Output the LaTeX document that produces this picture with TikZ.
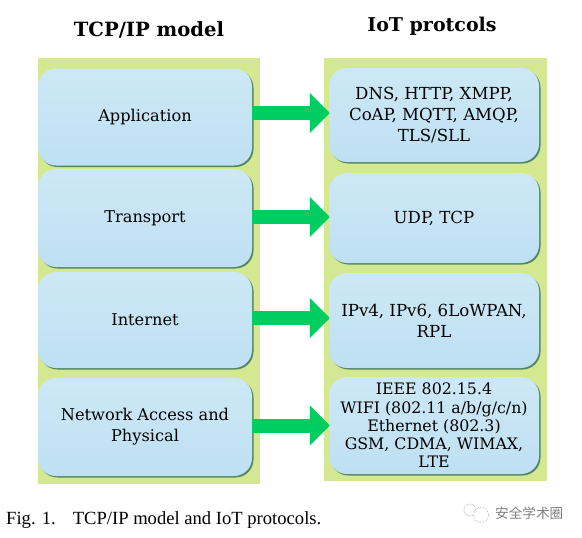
\documentclass[tikz,border=0pt]{standalone}
\usepackage{fontspec}
\setmainfont{DejaVu Serif}
\newfontfamily\captionfont{Liberation Serif}
\newfontfamily\cjkfont{Noto Sans CJK SC}
\usepackage{xcolor}
\usetikzlibrary{arrows.meta,shadows}
\definecolor{panelgreen}{RGB}{212,232,145}
\definecolor{boxtop}{RGB}{205,232,245}
\definecolor{boxbottom}{RGB}{190,224,243}
\definecolor{flowgreen}{RGB}{0,205,95}
\tikzset{
    layerbox/.style={rounded corners=18pt, top color=boxtop, bottom color=boxbottom, draw=none,
        drop shadow={shadow xshift=1.5pt, shadow yshift=-1.5pt, fill=black!45!teal, opacity=0.6},
        align=center, font=\fontsize{16.2}{21}\selectfont, inner sep=0pt},
    protobox/.style={layerbox, minimum width=210pt, font=\fontsize{16.6}{21}\selectfont},
    flow/.style={draw=flowgreen, line width=14pt, -{Triangle[length=20pt,width=39pt,fill=flowgreen]}, shorten >=-1pt},
    heading/.style={font=\fontsize{#1}{22}\selectfont\bfseries}
}
\begin{document}
\begin{tikzpicture}[x=1pt,y=-1pt]
    \useasboundingbox (0,0) rectangle (582,538);
    \fill[white] (0,0) rectangle (582,538);
    % panels
    \fill[panelgreen] (38,58) rectangle (260,484);
    \fill[panelgreen] (324,58) rectangle (547,481);
    \node[heading=19.6] (modelhead) at (149,30) {TCP/IP model};
    \node[heading=19] (iothead) at (432,26) {IoT protcols};
    % left column
    \node[layerbox, minimum width=214pt, minimum height=97pt] (application) at (145,117) {Application};
    \node[layerbox, minimum width=214pt, minimum height=98pt] (transport) at (145,218) {Transport};
    \node[layerbox, minimum width=214pt, minimum height=96pt] (internet) at (145,320) {Internet};
    \node[layerbox, minimum width=214pt, minimum height=98pt] (network) at (145,427) {Network Access and\\Physical};
    % right column
    \node[protobox, minimum height=94pt] (appproto) at (434,115) {DNS, HTTP, XMPP,\\CoAP, MQTT, AMQP,\\TLS/SLL};
    \node[protobox, minimum height=90pt] (transproto) at (434,218) {UDP, TCP};
    \node[protobox, minimum height=95pt] (netproto) at (434,320.5) {IPv4, IPv6, 6LoWPAN,\\RPL};
    \node[protobox, minimum height=97pt, font=\fontsize{15.8}{18.3}\selectfont] (linkproto) at (434,425.5) {IEEE 802.15.4\\WIFI (802.11 a/b/g/c/n)\\Ethernet (802.3)\\GSM, CDMA, WIMAX,\\LTE};
    % arrows
    \draw[flow] ([yshift=2pt]appproto.west -| application.east) -- ([yshift=2pt]appproto.west);
    \draw[flow] ([yshift=1pt]transproto.west -| transport.east) -- ([yshift=1pt]transproto.west);
    \draw[flow] ([yshift=2.5pt]netproto.west -| internet.east) -- ([yshift=2.5pt]netproto.west);
    \draw[flow] (linkproto.west -| network.east) -- (linkproto.west);
    % caption and mark
    \node[anchor=west, inner sep=0pt, font=\fontsize{18.6}{20}\selectfont\captionfont] (caption) at (6,520) {Fig. 1.\hspace{17pt}TCP/IP model and IoT protocols.};
    \node[anchor=west, inner sep=0pt, text=black!50, font=\fontsize{13.6}{16}\selectfont\cjkfont] (mark) at (495,513) {安全学术圈};
    \draw[black!30, line width=0.7pt, densely dotted] (470,510) circle (6pt);
    \draw[black!30, fill=white, line width=0.7pt, densely dotted] (481,515) circle (7.5pt);
\end{tikzpicture}
\end{document}
